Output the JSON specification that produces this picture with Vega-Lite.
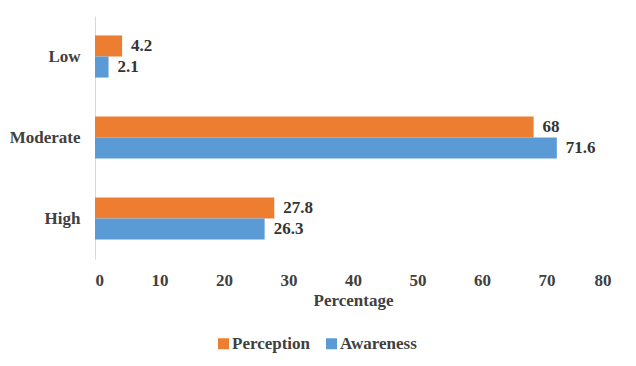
{
  "$schema": "https://vega.github.io/schema/vega-lite/v6.json",
  "width": 516,
  "height": 243,
  "autosize": "none",
  "padding": {"left": 95, "top": 16, "right": 25, "bottom": 107},
  "background": "white",
  "config": {"view": {"stroke": null}, "font": "Liberation Serif"},
  "data": {
    "values": [
      {"level": "Low", "series": "Perception", "value": 4.2},
      {"level": "Low", "series": "Awareness", "value": 2.1},
      {"level": "Moderate", "series": "Perception", "value": 68},
      {"level": "Moderate", "series": "Awareness", "value": 71.6},
      {"level": "High", "series": "Perception", "value": 27.8},
      {"level": "High", "series": "Awareness", "value": 26.3}
    ]
  },
  "encoding": {
    "y": {
      "field": "level",
      "type": "nominal",
      "sort": ["Low", "Moderate", "High"],
      "scale": {"paddingInner": 0.48, "paddingOuter": 0.24},
      "axis": {
        "title": null,
        "ticks": false,
        "domainColor": "#d9d9d9",
        "labelFont": "Liberation Serif",
        "labelFontSize": 17,
        "labelFontWeight": "bold",
        "labelColor": "#404040",
        "labelPadding": 15
      }
    },
    "yOffset": {
      "field": "series",
      "type": "nominal",
      "sort": ["Perception", "Awareness"],
      "scale": {"paddingInner": 0, "paddingOuter": 0}
    },
    "x": {
      "field": "value",
      "type": "quantitative",
      "scale": {"domain": [0, 80], "nice": false},
      "axis": {
        "values": [0, 10, 20, 30, 40, 50, 60, 70, 80],
        "grid": false,
        "domain": false,
        "ticks": false,
        "labelPadding": 13,
        "labelFont": "Liberation Serif",
        "labelFontSize": 17,
        "labelFontWeight": "bold",
        "labelColor": "#404040",
        "title": "Percentage",
        "titleFont": "Liberation Serif",
        "titleFontSize": 17,
        "titleFontWeight": "bold",
        "titleColor": "#404040",
        "titlePadding": 4
      }
    }
  },
  "layer": [
    {
      "mark": {"type": "bar"},
      "encoding": {
        "color": {
          "field": "series",
          "type": "nominal",
          "sort": ["Perception", "Awareness"],
          "scale": {"domain": ["Perception", "Awareness"], "range": ["#ED7D31", "#5B9BD5"]},
          "legend": {
            "title": null,
            "orient": "none",
            "direction": "horizontal",
            "legendX": 120,
            "legendY": 319,
            "padding": 0,
            "symbolType": "square",
            "symbolSize": 121,
            "symbolStrokeWidth": 0,
            "labelOffset": 0,
            "columnPadding": 12,
            "labelFont": "Liberation Serif",
            "labelFontSize": 17,
            "labelFontWeight": "bold",
            "labelColor": "#404040"
          }
        }
      }
    },
    {
      "mark": {
        "type": "text",
        "align": "left",
        "baseline": "middle",
        "dx": 9,
        "font": "Liberation Serif",
        "fontSize": 17,
        "fontWeight": "bold",
        "color": "#333333"
      },
      "encoding": {
        "text": {"field": "value", "type": "quantitative"}
      }
    }
  ]
}
